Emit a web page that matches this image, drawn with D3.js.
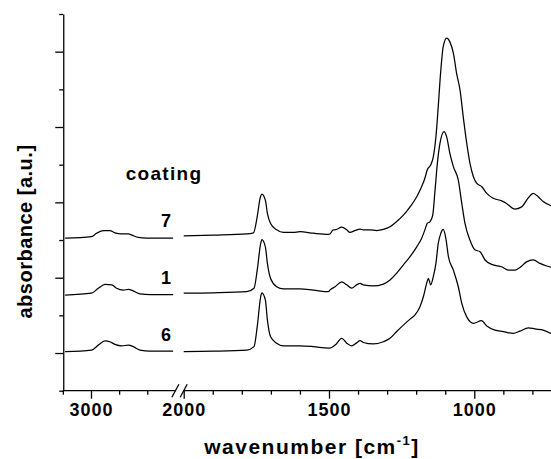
<!DOCTYPE html>
<html>
<head>
<meta charset="utf-8">
<script src="https://cdn.jsdelivr.net/npm/d3@7"></script>
<style>
  html, body { margin: 0; padding: 0; background: #fff; }
  svg { display: block; }
  text { font-family: "Liberation Sans", Arial, sans-serif; font-weight: bold; fill: #000; }
</style>
</head>
<body>
<svg id="chart" width="551" height="459"></svg>
<script>
// FTIR spectra of three coatings: [wavenumber cm-1, absorbance a.u.]
const coating7 = [
  [3092,0.405],[2998,0.409],[2980,0.418],[2956,0.425],[2933,0.425],[2915,0.419],
  [2891,0.416],[2867,0.416],[2855,0.413],[2832,0.407],[2802,0.405],[2708,0.405],
  [2000,0.411],[1898,0.413],[1783,0.416],[1760,0.419],[1747,0.462],[1737,0.511],
  [1731,0.522],[1719,0.506],[1712,0.471],[1701,0.444],[1680,0.427],[1657,0.420],
  [1623,0.420],[1600,0.422],[1554,0.418],[1502,0.415],[1497,0.416],[1485,0.427],
  [1479,0.427],[1456,0.434],[1439,0.427],[1428,0.420],[1411,0.425],[1393,0.429],
  [1382,0.427],[1359,0.427],[1336,0.425],[1313,0.428],[1290,0.435],[1267,0.449],
  [1244,0.466],[1221,0.488],[1198,0.515],[1181,0.542],[1170,0.564],[1162,0.586],
  [1150,0.599],[1141,0.621],[1132,0.674],[1124,0.754],[1116,0.843],[1107,0.913],
  [1095,0.936],[1084,0.926],[1072,0.896],[1061,0.843],[1049,0.798],[1038,0.727],
  [1026,0.657],[1015,0.604],[1003,0.568],[992,0.551],[975,0.542],[957,0.524],
  [935,0.511],[906,0.504],[889,0.497],[860,0.482],[837,0.488],[814,0.512],
  [797,0.524],[780,0.515],[763,0.502],[736,0.491]
];
const coating1 = [
  [3092,0.254],[2998,0.259],[2974,0.272],[2950,0.282],[2926,0.281],[2909,0.272],
  [2885,0.267],[2867,0.269],[2850,0.265],[2826,0.257],[2790,0.255],[2708,0.255],
  [2000,0.259],[1898,0.260],[1783,0.263],[1758,0.272],[1747,0.320],[1735,0.391],
  [1731,0.401],[1719,0.382],[1712,0.338],[1701,0.298],[1680,0.276],[1657,0.270],
  [1600,0.270],[1554,0.267],[1502,0.263],[1497,0.267],[1479,0.276],[1456,0.289],
  [1439,0.281],[1422,0.272],[1405,0.281],[1393,0.285],[1382,0.281],[1348,0.278],
  [1313,0.283],[1290,0.294],[1267,0.312],[1244,0.334],[1221,0.356],[1198,0.382],
  [1181,0.405],[1170,0.427],[1162,0.444],[1152,0.449],[1143,0.466],[1135,0.533],
  [1127,0.604],[1118,0.657],[1104,0.688],[1095,0.674],[1084,0.630],[1072,0.595],
  [1055,0.559],[1043,0.497],[1032,0.444],[1015,0.400],[998,0.374],[980,0.369],
  [963,0.347],[935,0.334],[906,0.329],[883,0.320],[860,0.320],[843,0.327],
  [820,0.342],[797,0.347],[774,0.338],[751,0.331],[736,0.328]
];
const coating6 = [
  [3092,0.104],[2998,0.108],[2974,0.121],[2950,0.132],[2933,0.130],[2915,0.123],
  [2891,0.119],[2867,0.121],[2850,0.117],[2826,0.108],[2790,0.105],[2708,0.105],
  [2000,0.104],[1898,0.105],[1783,0.108],[1758,0.117],[1747,0.170],[1735,0.250],
  [1731,0.260],[1719,0.241],[1712,0.188],[1701,0.143],[1680,0.126],[1657,0.119],
  [1600,0.119],[1554,0.117],[1502,0.113],[1497,0.113],[1479,0.121],[1456,0.139],
  [1439,0.126],[1422,0.119],[1405,0.127],[1393,0.133],[1382,0.128],[1348,0.124],
  [1313,0.130],[1290,0.139],[1267,0.157],[1244,0.174],[1221,0.190],[1204,0.201],
  [1187,0.223],[1175,0.250],[1164,0.285],[1158,0.298],[1150,0.281],[1141,0.303],
  [1132,0.338],[1124,0.391],[1115,0.418],[1107,0.428],[1098,0.405],[1089,0.356],
  [1072,0.320],[1055,0.276],[1043,0.232],[1026,0.196],[1003,0.179],[975,0.186],
  [957,0.172],[929,0.161],[900,0.157],[866,0.152],[843,0.158],[814,0.167],
  [791,0.164],[763,0.161],[736,0.152]
];

const series = [coating7, coating1, coating6];
const coatingNames = ["7", "1", "6"];

// axis ticks
const xMajorTicks = [3000, 2000, 1500, 1000];
const xMinorTicks = [3100, 2900, 2800, 1900, 1800, 1700, 1600, 1400, 1300, 1200, 1100, 900, 800];
const yMajorTicks = [0.1, 0.3, 0.5, 0.7, 0.9];
const yMinorTicks = [0, 0.2, 0.4, 0.6, 0.8, 1.0];

// axis break: the x axis jumps from breakHigh straight to breakLow
const breakHigh = 2700, breakLow = 2000;

const svg = d3.select("#chart");

const x = d3.scaleLinear()
  .domain([3100, breakHigh, breakLow, 736])
  .range([62.85, 175.4, 183.7, 551]);
const y = d3.scaleLinear().domain([0, 1]).range([390.7, 14]);

const axisY0 = y(0);

// spectra: split each into the part left and right of the break
const line = d3.line()
  .x(d => x(d[0]))
  .y(d => y(d[1]))
  .curve(d3.curveMonotoneX);

const specG = svg.append("g");
series.forEach(s => {
  const parts = [s.filter(d => d[0] > breakHigh), s.filter(d => d[0] <= breakLow)];
  parts.forEach(p => {
    specG.append("path")
      .attr("d", line(p))
      .attr("fill", "none")
      .attr("stroke", "#000")
      .attr("stroke-width", 1.25)
      .attr("stroke-linejoin", "round");
  });
});

// y axis (no labels)
const yAxisG = svg.append("g").attr("transform", `translate(${x(3100) + 0.4},0)`);
yAxisG.call(d3.axisLeft(y).tickValues(yMajorTicks).tickSize(8).tickSizeOuter(0).tickFormat(""));
yAxisG.append("g").call(d3.axisLeft(y).tickValues(yMinorTicks).tickSize(4).tickSizeOuter(0).tickFormat(""))
  .select(".domain").remove();

// x axis
const xAxisG = svg.append("g").attr("transform", `translate(0,${axisY0})`);
xAxisG.call(d3.axisBottom(x).tickValues(xMajorTicks).tickSize(8).tickPadding(5)
  .tickFormat(d3.format("d")));
xAxisG.append("g").call(d3.axisBottom(x).tickValues(xMinorTicks).tickSize(4).tickFormat(""))
  .select(".domain").remove();
xAxisG.select(".domain").remove();
xAxisG.selectAll(".tick text")
  .attr("font-size", 18)
  .attr("letter-spacing", 1)
  .attr("font-family", "'Liberation Sans', Arial, sans-serif")
  .attr("font-weight", "bold");

// axis line in two segments with break marks
const axisSegs = [[x(3100), x(breakHigh)], [x(breakLow), x(736)]];
axisSegs.forEach(([a, b]) => {
  xAxisG.append("line").attr("x1", a).attr("x2", b).attr("y1", 0).attr("y2", 0)
    .attr("stroke", "#000").attr("stroke-width", 1.3);
});
[breakHigh, breakLow].forEach(v => {
  const cx = x(v);
  xAxisG.append("line")
    .attr("x1", cx - 3.5).attr("y1", 6.5).attr("x2", cx + 3.5).attr("y2", -6.5)
    .attr("stroke", "#000").attr("stroke-width", 1.3);
});

svg.selectAll(".tick line, .domain").attr("stroke-width", 1.3);

// titles
svg.append("text")
  .attr("x", 312).attr("y", 454)
  .attr("text-anchor", "middle")
  .attr("font-size", 21)
  .attr("letter-spacing", 1.5)
  .call(t => {
    t.append("tspan").text("wavenumber [cm");
    t.append("tspan").attr("font-size", 13).attr("dy", -9).text("-1");
    t.append("tspan").attr("dy", 9).text("]");
  });

svg.append("text")
  .attr("transform", `translate(32,231.5) rotate(-90)`)
  .attr("text-anchor", "middle")
  .attr("font-size", 20)
  .attr("letter-spacing", 0.5)
  .text("absorbance [a.u.]");

// legend-style labels for each trace
svg.append("text")
  .attr("x", 164).attr("y", 180)
  .attr("text-anchor", "middle")
  .attr("font-size", 19)
  .attr("letter-spacing", 1.3)
  .text("coating");

const labelBaselines = [226.7, 284.3, 340.7];
coatingNames.forEach((n, i) => {
  svg.append("text")
    .attr("x", 166).attr("y", labelBaselines[i])
    .attr("text-anchor", "middle")
    .attr("font-size", 18)
    .text(n);
});
</script>
</body>
</html>
